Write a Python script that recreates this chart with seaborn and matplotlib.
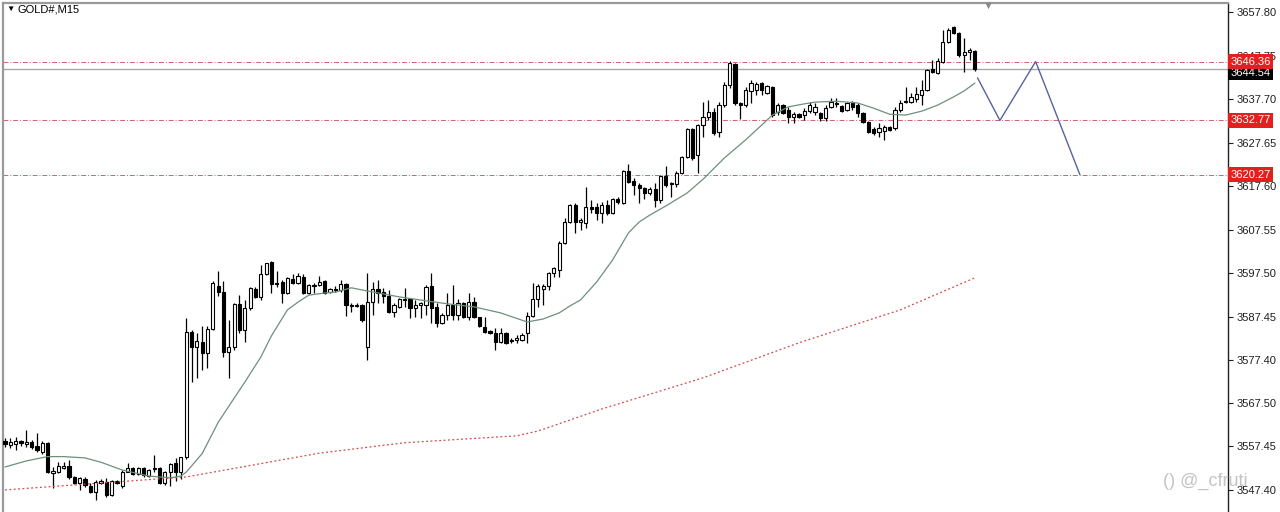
import numpy as np
import pandas as pd
import matplotlib
matplotlib.use("Agg")
import matplotlib.pyplot as plt
import seaborn as sns

# GOLD#, M15 candles (oldest -> newest)
opens = [
    3558.8, 3557.8, 3558.1, 3558.8, 3558.1, 3558.5, 3557.6, 3556.2, 3558.3, 3551.3,
    3551.5, 3552.5, 3552.9, 3550.4, 3549.0, 3549.9, 3548.3, 3546.9, 3549.0, 3549.2,
    3546.2, 3549.5, 3548.3, 3551.5, 3552.5, 3551.1, 3552.5, 3550.6, 3552.2, 3552.5,
    3549.0, 3551.5, 3553.6, 3551.5, 3555.1, 3583.9, 3580.5, 3581.6, 3579.1, 3584.6,
    3594.5, 3593.1, 3579.3, 3580.5, 3590.4, 3584.4, 3589.5, 3593.8, 3592.0, 3597.3,
    3600.0, 3595.2, 3595.4, 3592.9, 3596.1, 3595.2, 3596.6, 3592.9, 3594.5, 3594.7,
    3595.7, 3593.1, 3593.8, 3593.6, 3595.0, 3590.1, 3590.1, 3590.1, 3580.5, 3590.8,
    3593.8, 3593.1, 3592.2, 3588.5, 3589.7, 3591.5, 3591.5, 3589.5, 3590.1, 3590.1,
    3594.5, 3589.7, 3586.0, 3587.9, 3590.1, 3587.9, 3590.6, 3587.4, 3590.8, 3587.4,
    3585.1, 3584.2, 3583.7, 3581.6, 3583.7, 3582.1, 3582.1, 3582.1, 3583.7, 3587.6,
    3591.5, 3593.8, 3594.5, 3597.5, 3598.2, 3604.5, 3609.3, 3613.2, 3609.3, 3609.1,
    3612.8, 3612.8, 3611.4, 3613.2, 3611.4, 3614.6, 3613.7, 3621.1, 3618.8, 3617.8,
    3617.2, 3616.0, 3617.0, 3614.4, 3619.9, 3618.1, 3618.1, 3620.6, 3624.3, 3630.8,
    3624.7, 3631.7, 3633.6, 3634.7, 3630.1, 3636.3, 3640.9, 3645.8, 3636.8, 3636.3,
    3639.6, 3639.8, 3641.4, 3639.1, 3640.5, 3634.7, 3636.3, 3635.2, 3633.6, 3634.2,
    3634.0, 3634.9, 3634.7, 3634.5, 3633.4, 3635.9, 3636.8, 3636.1, 3635.2, 3637.0,
    3636.3, 3634.5, 3632.4, 3630.8, 3630.1, 3630.4, 3631.3, 3631.0, 3635.2, 3637.0,
    3637.0, 3637.7, 3638.6, 3639.8, 3644.6, 3643.7, 3646.2, 3650.9, 3654.4, 3653.0,
    3647.9, 3648.6, 3648.9,
]
highs = [
    3559.5, 3559.5, 3559.7, 3559.0, 3561.3, 3559.0, 3560.6, 3558.8, 3558.5, 3552.7,
    3553.8, 3553.8, 3554.3, 3550.6, 3550.4, 3550.4, 3549.0, 3549.7, 3549.9, 3550.2,
    3549.7, 3549.7, 3552.0, 3553.6, 3552.7, 3552.7, 3552.7, 3552.2, 3555.5, 3552.7,
    3551.8, 3553.6, 3554.8, 3555.1, 3587.2, 3584.4, 3583.7, 3585.3, 3585.3, 3595.7,
    3598.0, 3595.7, 3586.7, 3590.6, 3592.4, 3591.3, 3594.3, 3594.3, 3599.3, 3599.8,
    3600.3, 3598.0, 3595.9, 3596.6, 3597.3, 3597.5, 3597.3, 3595.0, 3595.2, 3596.8,
    3595.9, 3594.1, 3594.5, 3595.9, 3595.2, 3590.6, 3590.6, 3590.4, 3597.5, 3595.4,
    3595.9, 3594.1, 3593.6, 3590.6, 3591.8, 3594.1, 3591.8, 3591.3, 3590.8, 3594.7,
    3597.5, 3590.6, 3588.3, 3592.9, 3594.7, 3591.5, 3590.8, 3592.9, 3592.0, 3587.4,
    3587.4, 3584.4, 3584.9, 3584.9, 3583.9, 3582.6, 3583.2, 3583.7, 3588.5, 3595.2,
    3595.0, 3595.0, 3597.7, 3598.9, 3605.0, 3610.2, 3613.5, 3613.7, 3610.2, 3617.4,
    3614.4, 3613.7, 3613.9, 3614.4, 3614.8, 3615.1, 3621.3, 3622.7, 3619.5, 3618.3,
    3617.4, 3617.4, 3618.3, 3620.1, 3622.2, 3618.5, 3621.1, 3624.6, 3631.0, 3631.0,
    3632.0, 3637.0, 3637.5, 3635.6, 3637.0, 3641.6, 3646.5, 3646.0, 3637.0, 3640.5,
    3642.1, 3641.6, 3641.6, 3640.9, 3640.7, 3636.8, 3636.6, 3635.9, 3634.7, 3634.5,
    3635.6, 3637.0, 3636.8, 3634.7, 3636.3, 3637.9, 3637.9, 3636.3, 3637.0, 3637.2,
    3636.8, 3634.7, 3632.7, 3631.3, 3632.2, 3631.7, 3631.5, 3635.9, 3637.5, 3640.5,
    3639.1, 3640.5, 3642.1, 3644.6, 3646.7, 3647.2, 3653.7, 3654.2, 3654.6, 3653.2,
    3651.8, 3649.5, 3649.1,
]
lows = [
    3557.4, 3557.2, 3556.7, 3557.6, 3557.4, 3556.9, 3556.2, 3555.8, 3551.3, 3547.8,
    3551.3, 3552.2, 3549.9, 3548.8, 3547.4, 3548.1, 3546.7, 3545.1, 3548.8, 3545.8,
    3546.0, 3548.8, 3547.8, 3551.5, 3550.8, 3550.8, 3550.4, 3550.4, 3551.5, 3548.8,
    3548.5, 3548.3, 3549.5, 3549.9, 3554.6, 3572.3, 3573.3, 3575.1, 3575.6, 3584.4,
    3592.2, 3578.0, 3573.3, 3579.8, 3583.7, 3581.6, 3589.0, 3591.8, 3591.3, 3597.0,
    3592.9, 3594.3, 3590.6, 3592.7, 3595.0, 3595.0, 3592.7, 3592.7, 3592.9, 3594.5,
    3592.7, 3592.9, 3593.1, 3593.1, 3587.6, 3588.5, 3589.7, 3586.2, 3577.4, 3587.9,
    3590.6, 3590.6, 3588.3, 3587.4, 3589.5, 3589.7, 3587.2, 3587.4, 3587.2, 3587.9,
    3586.0, 3585.1, 3585.8, 3586.7, 3586.7, 3586.7, 3587.2, 3586.7, 3587.2, 3585.1,
    3583.7, 3583.5, 3579.8, 3581.4, 3581.2, 3581.4, 3581.4, 3581.9, 3581.4, 3587.4,
    3589.7, 3590.1, 3593.6, 3596.6, 3596.6, 3604.3, 3609.1, 3606.8, 3607.5, 3608.0,
    3611.4, 3609.8, 3609.1, 3610.9, 3611.2, 3613.5, 3613.5, 3618.3, 3615.5, 3613.7,
    3614.6, 3615.5, 3612.8, 3613.7, 3617.4, 3615.1, 3617.4, 3620.4, 3624.1, 3623.6,
    3620.6, 3629.0, 3632.9, 3629.4, 3629.0, 3635.9, 3640.2, 3636.3, 3633.1, 3635.9,
    3636.8, 3638.6, 3638.6, 3638.9, 3633.6, 3634.0, 3634.2, 3632.2, 3632.2, 3633.4,
    3632.9, 3634.5, 3634.0, 3632.7, 3632.7, 3635.6, 3635.9, 3634.7, 3634.9, 3635.2,
    3633.6, 3632.2, 3629.9, 3629.4, 3629.0, 3628.3, 3630.4, 3630.6, 3634.7, 3636.8,
    3636.8, 3637.0, 3636.3, 3639.6, 3643.7, 3643.5, 3646.0, 3650.7, 3652.8, 3647.5,
    3643.9, 3646.7, 3644.3,
]
closes = [
    3558.1, 3558.5, 3558.8, 3558.3, 3558.5, 3557.4, 3556.7, 3558.3, 3551.5, 3551.8,
    3552.9, 3552.9, 3550.4, 3549.0, 3550.2, 3548.5, 3546.9, 3549.2, 3549.5, 3546.2,
    3549.5, 3549.0, 3551.5, 3552.5, 3551.1, 3552.5, 3550.8, 3552.0, 3552.5, 3549.0,
    3551.5, 3553.4, 3551.5, 3555.1, 3583.9, 3580.5, 3581.9, 3579.1, 3584.6, 3595.2,
    3593.1, 3579.3, 3580.5, 3590.4, 3584.4, 3589.5, 3594.1, 3592.0, 3597.3, 3599.8,
    3595.0, 3595.0, 3592.9, 3596.4, 3595.2, 3596.8, 3592.9, 3594.7, 3594.7, 3595.4,
    3592.9, 3593.8, 3593.6, 3595.0, 3590.1, 3589.9, 3589.9, 3586.7, 3590.8, 3593.8,
    3592.9, 3592.2, 3588.5, 3590.1, 3591.5, 3591.3, 3589.5, 3590.1, 3590.6, 3594.3,
    3589.5, 3586.0, 3587.9, 3590.1, 3587.9, 3590.6, 3587.4, 3590.8, 3587.4, 3585.3,
    3583.9, 3583.7, 3581.6, 3583.7, 3581.4, 3581.9, 3582.6, 3583.2, 3587.6, 3591.5,
    3594.5, 3594.5, 3597.5, 3598.7, 3604.5, 3609.3, 3613.2, 3609.3, 3609.8, 3612.8,
    3612.3, 3611.4, 3613.2, 3611.4, 3614.6, 3613.9, 3621.1, 3618.5, 3617.8, 3617.2,
    3616.0, 3617.0, 3614.4, 3619.9, 3617.8, 3618.3, 3620.6, 3624.3, 3630.8, 3624.1,
    3631.7, 3633.6, 3634.7, 3629.9, 3636.3, 3640.9, 3646.0, 3636.8, 3636.3, 3639.8,
    3641.4, 3641.2, 3639.8, 3640.7, 3634.0, 3636.3, 3634.5, 3633.6, 3634.2, 3633.6,
    3634.9, 3636.3, 3635.9, 3633.4, 3635.6, 3637.0, 3636.6, 3634.9, 3636.8, 3635.9,
    3634.5, 3632.4, 3630.1, 3629.9, 3631.0, 3631.3, 3630.6, 3635.2, 3636.8, 3637.2,
    3638.2, 3638.9, 3639.8, 3644.4, 3643.9, 3646.5, 3650.9, 3653.7, 3653.0, 3647.9,
    3648.6, 3649.1, 3644.54,
]

# moving averages as drawn on the chart (candle index, price)
ma_idx = [0, 4, 8, 11, 15, 18, 22, 27, 31, 33, 34, 37, 40, 43, 45, 48, 50, 53, 55, 57,
          60, 62, 65, 67, 74, 79, 83, 88, 93, 98, 101, 104, 106, 108, 111, 114, 117,
          119, 121, 124, 128, 131, 135, 139, 142, 144, 147, 150, 152, 156, 160, 163,
          166, 169, 172, 175, 178, 180, 182]
ma_val = [3552.7, 3554.1, 3555.1, 3555.1, 3554.8, 3553.8, 3552.0, 3550.6, 3550.2, 3550.6,
          3551.5, 3555.8, 3563.0, 3568.6, 3572.3, 3578.1, 3583.0, 3589.0, 3590.8, 3592.4,
          3592.9, 3593.1, 3594.1, 3593.6, 3592.0, 3591.1, 3590.4, 3589.7, 3588.3, 3586.2,
          3586.9, 3588.3, 3589.9, 3591.3, 3595.4, 3600.5, 3606.8, 3609.3, 3610.9, 3613.0,
          3616.0, 3619.2, 3624.1, 3628.3, 3631.7, 3634.0, 3635.9, 3636.6, 3637.0, 3637.2,
          3636.8, 3635.6, 3634.2, 3634.0, 3634.9, 3636.3, 3638.2, 3639.6, 3641.4]
slow_idx = [0, 18, 34, 59, 75, 96, 100, 112, 131, 149, 168, 182]
slow_val = [3547.4, 3549.0, 3550.4, 3555.9, 3558.3, 3559.9, 3561.0, 3566.1, 3573.3,
            3581.4, 3589.0, 3596.4]

# projected path drawn by hand
proj_idx = [182.5, 186.7, 193.4, 201.7]
proj_val = [3642.6, 3632.77, 3646.36, 3620.27]

levels = [3646.36, 3632.77, 3620.27]
last_price = 3644.54
yticks = [3657.80, 3647.75, 3637.70, 3627.65, 3617.60, 3607.55, 3597.50,
          3587.45, 3577.40, 3567.50, 3557.45, 3547.40]

sns.set_style("white")
plt.rcParams['font.family'] = ['Liberation Sans', 'DejaVu Sans']

fig = plt.figure(figsize=(12.8, 5.12), dpi=100)
ax = fig.add_axes([3 / 1280, 0, 1225 / 1280, 509 / 512])

df = pd.DataFrame({'o': opens, 'h': highs, 'l': lows, 'c': closes})
df['i'] = np.arange(len(df))
up = df.c >= df.o
lo = df[['o', 'c']].min(axis=1)
hgt = (df.c - df.o).abs().clip(lower=0.12)

# wicks then bodies
ax.vlines(df.i, df.l, df.h, color='black', lw=0.9, zorder=2)
ax.bar(df.i[up], hgt[up], bottom=lo[up], width=0.6, color='white',
       edgecolor='black', lw=0.8, zorder=3)
ax.bar(df.i[~up], hgt[~up], bottom=lo[~up], width=0.6, color='black',
       edgecolor='black', lw=0.8, zorder=3)

sns.lineplot(x=ma_idx, y=ma_val, ax=ax, color='#6f8f7c', lw=0.9, zorder=4)
sns.lineplot(x=slow_idx, y=slow_val, ax=ax, color='#d24a4a', lw=0.9,
             linestyle=(0, (1.5, 2)), zorder=4)
sns.lineplot(x=proj_idx, y=proj_val, ax=ax, color='#56639e', lw=1.0, zorder=4)

for lv in levels:
    ax.axhline(lv, color='#d46070', lw=0.7, ls=(0, (5, 2, 1, 2)), zorder=1)
ax.axhline(last_price, color='#a8a8a8', lw=1.0, zorder=1)

ax.set_xlim(-0.375, 229.5)
ax.set_ylim(3542.3, 3659.9)
ax.set_xticks([])
ax.yaxis.tick_right()
ax.set_yticks(yticks)
ax.set_yticklabels([f"{v:.2f}" for v in yticks])
ax.tick_params(axis='y', direction='out', length=3.5, width=0.8, pad=3,
               labelsize=8, colors='#202020')
ax.set_xlabel('')
ax.set_ylabel('')

for side in ['top', 'left']:
    ax.spines[side].set_color('#9a9a9a')
    ax.spines[side].set_linewidth(1.6)
ax.spines['right'].set_color('#202020')
ax.spines['right'].set_linewidth(1.0)
ax.spines['bottom'].set_visible(False)

# price labels on the right scale (they sit over the scale, as in the terminal)
trans = ax.get_yaxis_transform()
ax.text(1.002, last_price - 0.7, f"{last_price:.2f}", transform=trans, ha='left',
        va='center', fontsize=8, color='white', clip_on=False, zorder=5,
        bbox=dict(boxstyle='square,pad=0.2', fc='black', ec='none'))
for lv in levels:
    ax.text(1.002, lv, f"{lv:.2f}", transform=trans, ha='left', va='center',
            fontsize=8, color='white', clip_on=False, zorder=6,
            bbox=dict(boxstyle='square,pad=0.2', fc='#e3201e', ec='none'))

fig.text(6 / 1280, 1 - 9 / 512, "\u25BC", fontsize=6, va='center', color='black')
fig.text(17 / 1280, 1 - 9 / 512, "GOLD#,M15", fontsize=8, va='center', color='black')
fig.text(988 / 1280, 1 - 6 / 512, "\u25BC", fontsize=8, ha='center', va='center',
         color='#8a8a8a')
fig.text(1163 / 1280, 1 - 481 / 512, "() @_cfruti", fontsize=13, va='center',
         color='#c4c4c4')

fig.savefig('out.png', dpi=100)
